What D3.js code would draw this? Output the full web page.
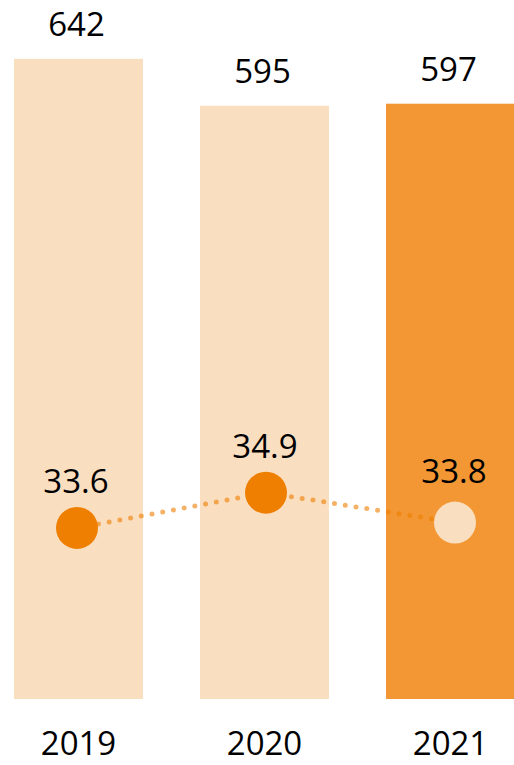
<!DOCTYPE html>
<html>
<head>
<meta charset="utf-8">
<script src="https://cdn.jsdelivr.net/npm/d3@7"></script>
<style>
  html, body { margin: 0; padding: 0; background: #fff; }
  svg { display: block; }
  text { font-family: "Open Sans", "Noto Sans", sans-serif; fill: #000; }
</style>
</head>
<body>
<svg id="chart" width="514" height="765"></svg>
<script>
// Yearly totals (bars) and rate (dotted line with markers)
const years = ["2019", "2020", "2021"];
const totals = [642, 595, 597];
const rates = [33.6, 34.9, 33.8];
const barColors = ["#FADEC0", "#FADEC0", "#F29733"];
const dotColors = ["#EF7F00", "#EF7F00", "#FADEC0"];

const svg = d3.select("#chart");

// Bar scales
const x = d3.scaleBand()
  .domain(years)
  .range([-14.5, 543.5])
  .paddingInner(57 / 186)
  .paddingOuter(28.5 / 186);

const y = d3.scaleLinear().domain([0, 700]).range([699, 1]);

// Secondary scales for the rate line
const x2 = d3.scalePoint().domain(years).range([77, 455]);
const y2 = d3.scaleLinear().domain([30, 36]).range([625.7, 462.8]);

const fontSize = 33;

// Bars
svg.append("g").selectAll("rect")
  .data(years)
  .join("rect")
  .attr("x", d => x(d))
  .attr("y", (d, i) => y(totals[i]))
  .attr("width", x.bandwidth())
  .attr("height", (d, i) => y(0) - y(totals[i]))
  .attr("fill", (d, i) => barColors[i]);

// Bar value labels
svg.append("g").selectAll("text")
  .data(years)
  .join("text")
  .attr("x", d => x(d) + x.bandwidth() / 2 - 2)
  .attr("y", (d, i) => y(totals[i]) - 23)
  .attr("text-anchor", "middle")
  .style("font-size", fontSize + "px")
  .text((d, i) => totals[i]);

// Dotted rate line
const line = d3.line()
  .x((d, i) => x2(years[i]))
  .y(d => y2(d));

svg.append("path")
  .datum(rates)
  .attr("d", line)
  .attr("fill", "none")
  .attr("stroke", "#EF7F00")
  .attr("stroke-opacity", 0.6)
  .attr("stroke-width", 5)
  .attr("stroke-linecap", "round")
  .attr("stroke-dasharray", "0 10.9");

// Markers
svg.append("g").selectAll("circle")
  .data(rates)
  .join("circle")
  .attr("cx", (d, i) => x2(years[i]))
  .attr("cy", d => y2(d))
  .attr("r", 21)
  .attr("fill", (d, i) => dotColors[i]);

// Rate labels
svg.append("g").selectAll("text")
  .data(rates)
  .join("text")
  .attr("x", (d, i) => x2(years[i]) - 1)
  .attr("y", (d, i) => y2(d) - (i === 2 ? 40 : 34.5))
  .attr("text-anchor", "middle")
  .style("font-size", fontSize + "px")
  .text(d => d.toFixed(1));

// Category axis labels
const xAxis = d3.axisBottom(x).tickSize(0).tickPadding(0);
const axisG = svg.append("g")
  .attr("transform", "translate(0,699)")
  .call(xAxis);
axisG.select(".domain").remove();
axisG.selectAll("text")
  .attr("y", 56)
  .attr("dy", 0)
  .style("font-size", fontSize + "px")
  .style("font-family", "\"Open Sans\", \"Noto Sans\", sans-serif")
  .attr("fill", "#000");
</script>
</body>
</html>
